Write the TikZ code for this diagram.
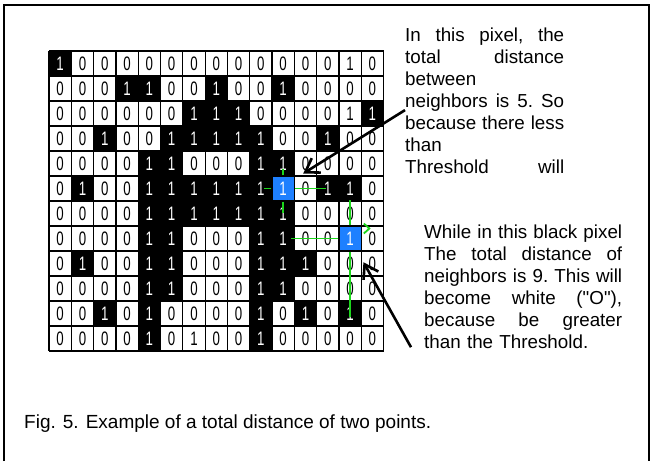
\documentclass[tikz,border=0pt]{standalone}
\usepackage{fontspec}
\setmainfont{Liberation Sans}
\newfontfamily\digitfont[FakeStretch=0.68]{Liberation Sans}
\usetikzlibrary{arrows.meta,positioning}

\definecolor{pixblue}{RGB}{30,128,255}
\definecolor{pixgreen}{RGB}{28,214,28}

% justified lines of the notes
\newcommand{\gap}{\hskip 0.278em plus 1fill\relax}
\newcommand{\spread}[2]{\leavevmode\hbox to #1{#2}}
\newcommand{\fivew}{159pt}
\newcommand{\ninew}{198pt}

\begin{document}
\begin{tikzpicture}[x=1pt, y=-1pt,
    gridline/.style={draw=black, line width=1.2pt},
    digit/.style={inner sep=0pt, font=\digitfont\fontsize{19.5}{19.5}\selectfont},
    bluecell/.style={draw=black, line width=1.2pt, fill=pixblue, text=white,
      minimum width=22.3pt, minimum height=25pt, inner sep=0pt,
      font=\digitfont\fontsize{19.5}{19.5}\selectfont},
    distline/.style={draw=pixgreen, line width=1.8pt},
    notestyle/.style={anchor=north west, inner sep=0pt, align=left,
      font=\fontsize{18.8}{22}\selectfont},
    pointer/.style={line width=2.6pt,
      -{Straight Barb[length=13pt,width=17pt,line width=2.6pt]}}]

  \useasboundingbox (0,0) rectangle (653,461);

  % Draw the frame
  \draw[line width=1.5pt] (4,461) -- (4,5) -- (649,5) -- (649,461);

  % Draw the grid
  \begin{scope}[shift={(49,51)}, x=22.3pt, y=-25pt]
    % 0 = white 0, 1 = black 1, 2 = white 1, 3 = blue 1
    \foreach \cells [count=\r from 0] in {
      {1,0,0,0,0,0,0,0,0,0,0,0,0,2,0},
      {0,0,0,1,1,0,0,1,0,0,1,0,0,0,0},
      {0,0,0,0,0,0,1,1,1,0,0,0,0,2,1},
      {0,0,1,0,0,1,1,1,1,1,0,0,1,0,0},
      {0,0,0,0,1,1,0,0,0,1,1,0,0,0,0},
      {0,1,0,0,1,1,1,1,1,1,3,0,1,1,0},
      {0,0,0,0,1,1,1,1,1,1,1,0,0,0,0},
      {0,0,0,0,1,1,0,0,0,1,1,0,0,3,0},
      {0,1,0,0,1,1,0,0,0,1,1,1,0,0,0},
      {0,0,0,0,1,1,0,0,0,1,1,0,0,0,0},
      {0,0,1,0,1,0,0,0,0,1,0,1,0,1,0},
      {0,0,0,0,1,0,2,0,0,1,0,0,0,0,0}}
      \foreach \v [count=\c from 0] in \cells {
        \ifcase\v
          \node[digit] (d-\r-\c) at (\c+0.5,\r+0.5) {0};
        \or
          \fill[black] (\c,\r) rectangle ++(1,1);
          \node[digit, text=white] (d-\r-\c) at (\c+0.5,\r+0.5) {1};
        \or
          \node[digit] (d-\r-\c) at (\c+0.5,\r+0.5) {1};
        \fi
      }

    % Grid lines
    \foreach \c in {0,...,15}
      \draw[gridline] (\c,0) -- (\c,12);
    \foreach \r in {0,...,12}
      \draw[gridline] (0,\r) -- (15,\r);

    % The two pixels
    \node[bluecell] (pixfive) at (10.5,5.5) {1};
    \node[bluecell] (pixnine) at (13.5,7.5) {1};

    % Distances to the neighbours
    \draw[distline] (pixfive.west) -- ++(-0.35,0);
    \draw[distline] (pixfive.east) -- ++(1.4,0);
    \draw[distline] (pixfive.north) -- ++(0,-0.25);
    \draw[distline] (pixfive.south) -- ++(0,0.45);

    \draw[distline] (pixnine.north) -- ++(0,-1);
    \draw[distline] (pixnine.south) -- ++(0,2.6);
    \draw[distline] (pixnine.west) -- ++(-2.1,0);
    \draw[distline] ([xshift=2pt,yshift=5pt]pixnine.east) -- ++(0.25,-0.2) -- ++(-0.25,-0.2);

    \coordinate (tipfive) at (11.4,4.9);
    \coordinate (tipnine) at (14.1,8.45);
  \end{scope}

  % Notes
  \node[notestyle, text width=\fivew] (notefive) at (405,28) {%
    \spread{\fivew}{In\gap this\gap pixel,\gap the}\\
    \spread{\fivew}{total\gap distance}\\
    between\\
    \spread{\fivew}{neighbors\gap is\gap 5.\gap So}\\
    \spread{\fivew}{because\gap there\gap less}\\
    than\\
    \spread{\fivew}{Threshold\gap will}};

  \node[notestyle, text width=\ninew] (notenine) at (424,225) {%
    \spread{\ninew}{While\gap in\gap this\gap black\gap pixel}\\
    \spread{\ninew}{The\gap total\gap distance\gap of}\\
    \spread{\ninew}{neighbors\gap is\gap 9.\gap This\gap will}\\
    \spread{\ninew}{become\gap white\gap (\textquotedbl O\textquotedbl),}\\
    \spread{\ninew}{because\gap be\gap greater}\\
    than the Threshold.};

  % Pointers
  \draw[pointer] ([yshift=-9pt]notefive.west) -- (tipfive);
  \draw[pointer] ([xshift=-13pt,yshift=2pt]notenine.south west) -- (tipnine);

  % Caption
  \node[anchor=base west, inner sep=0pt, font=\fontsize{19}{22}\selectfont]
    (caption) at (24,428) {Fig. 5. Example of a total distance of two points.};

\end{tikzpicture}
\end{document}
